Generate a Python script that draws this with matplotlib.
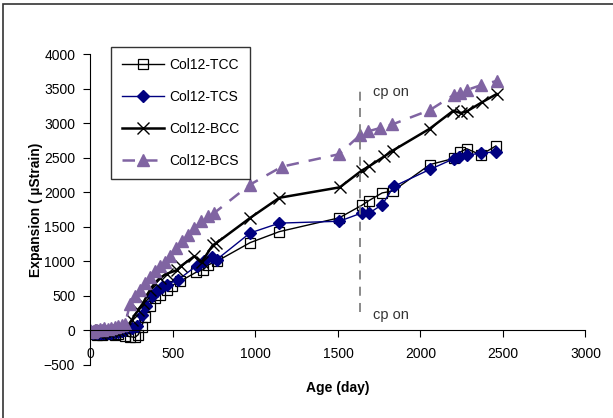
import matplotlib
matplotlib.use('Agg')
import matplotlib.pyplot as plt
from matplotlib.patches import Rectangle

plt.rcParams['font.family'] = ['Liberation Sans', 'DejaVu Sans']

# Col12 series: age (day) vs expansion (microstrain)
tcc_days = [0, 7, 14, 28, 42, 56, 70, 84, 105, 126, 147, 168, 210, 240, 270, 290, 310, 330,
            361, 391, 421, 462, 492, 542, 639, 684, 714, 765, 967, 1145,
            1508, 1644, 1688, 1768, 1835, 2057, 2203, 2239, 2280, 2366, 2457]
tcc_vals = [-20, -40, -50, -40, -60, -50, -60, -50, -40, -50, -60, -50, -80, -90, -100, -60, 50, 200,
            360, 470, 520, 590, 650, 710, 840, 880, 950, 1000, 1270, 1430,
            1630, 1810, 1880, 1990, 2020, 2400, 2490, 2580, 2630, 2540, 2670]

tcs_days = [0, 7, 14, 28, 42, 56, 70, 84, 105, 126, 147, 168, 189, 210, 250, 283, 310, 336,
            371, 401, 432, 462, 533, 644, 689, 735, 765, 967, 1145,
            1508, 1644, 1690, 1768, 1839, 2057, 2203, 2235, 2280, 2366, 2457]
tcs_vals = [-10, -20, -30, -20, -30, -40, -30, -40, -30, -30, -20, -20, -10, 0, 40, 60, 230, 360,
            495, 567, 631, 664, 736, 938, 1000, 1063, 1025, 1410, 1553,
            1580, 1700, 1700, 1820, 2085, 2330, 2485, 2510, 2533, 2568, 2582]

bcc_days = [0, 7, 14, 28, 42, 56, 70, 84, 105, 126, 147, 168, 189, 210, 250, 290, 320,
            361, 391, 421, 462, 522, 547, 629, 673, 740, 760, 967, 1145,
            1511, 1643, 1688, 1781, 1831, 2056, 2199, 2244, 2280, 2371, 2461]
bcc_vals = [0, -10, -20, -10, -20, -30, -20, -10, -20, -10, -10, 0, 0, 20, 150, 300, 400,
            591, 688, 761, 820, 871, 929, 1073, 987, 1230, 1260, 1627, 1920,
            2071, 2312, 2374, 2519, 2601, 2919, 3179, 3146, 3169, 3299, 3420]

bcs_days = [0, 7, 14, 28, 42, 56, 70, 84, 105, 126, 147, 168, 189, 210, 240, 270, 300,
            330, 360, 390, 420, 450, 480, 520, 555, 590, 630, 670, 710, 750, 967, 1160,
            1506, 1636, 1680, 1757, 1828, 2058, 2203, 2242, 2282, 2368, 2461]
bcs_vals = [0, -20, -10, 10, 0, 20, 10, 30, 20, 40, 50, 60, 80, 100, 380, 500, 590,
            690, 780, 860, 930, 990, 1080, 1200, 1290, 1380, 1480, 1580, 1650, 1700, 2110, 2370,
            2550, 2830, 2880, 2930, 2980, 3190, 3410, 3440, 3480, 3550, 3610]

cp_on_day = 1633

fig = plt.figure(figsize=(6.13, 4.18), dpi=100)
ax = fig.add_axes([0.1476, 0.1268, 0.8075, 0.744])

ax.plot(tcc_days, tcc_vals, color='black', lw=1, marker='s', ms=7,
        mfc='none', mec='black', mew=0.9, label='Col12-TCC')
ax.plot(tcs_days, tcs_vals, color='#000080', lw=1, marker='D', ms=6,
        mfc='#000080', mec='#000080', label='Col12-TCS')
ax.plot(bcc_days, bcc_vals, color='black', lw=1.8, marker='x', ms=8,
        mew=1.0, label='Col12-BCC')
ax.plot(bcs_days, bcs_vals, color='#8064A2', lw=1.8, ls=(0, (5, 4)), marker='^', ms=8,
        mfc='#8064A2', mec='#8064A2', label='Col12-BCS')

# cathodic protection switched on
ax.plot([cp_on_day, cp_on_day], [260, 3510], color='#808080', lw=1.3, ls=(0, (5, 4)))
ax.text(1710, 3450, 'cp on', fontsize=10.5, color='#333333', va='center')
ax.text(1710, 217, 'cp on', fontsize=10.5, color='#333333', va='center')

ax.set_xlim(0, 3000)
ax.set_ylim(-500, 4000)
ax.set_xticks(range(0, 3001, 500))
ax.set_yticks(range(-500, 4001, 500))

ax.spines['top'].set_visible(False)
ax.spines['right'].set_visible(False)
ax.spines['bottom'].set_position(('data', 0))
ax.tick_params(axis='both', labelsize=10, length=5, direction='out')
ax.tick_params(axis='x', pad=7)
ax.tick_params(axis='y', pad=6)

ax.set_xlabel('Age (day)', fontsize=10, fontweight='bold')
ax.set_ylabel('Expansion ( µStrain)', fontsize=10, fontweight='bold')
ax.xaxis.set_label_coords(0.5, -0.05)
ax.yaxis.set_label_coords(-0.095, 0.5)

leg = ax.legend(loc='upper left', bbox_to_anchor=(0.041, 1.0225), fontsize=10,
                frameon=True, fancybox=False, edgecolor='black', borderpad=0.8,
                labelspacing=1.3, handlelength=3.0, handletextpad=0.4, borderaxespad=0)
leg.get_frame().set_linewidth(1.0)

# chart area border
fig.patches.append(Rectangle((3 / 613, -0.1), 1.2, 0.1 + (418 - 4) / 418,
                             transform=fig.transFigure, fill=False,
                             edgecolor='#333333', lw=1.2))

fig.savefig('out.png', dpi=100)
